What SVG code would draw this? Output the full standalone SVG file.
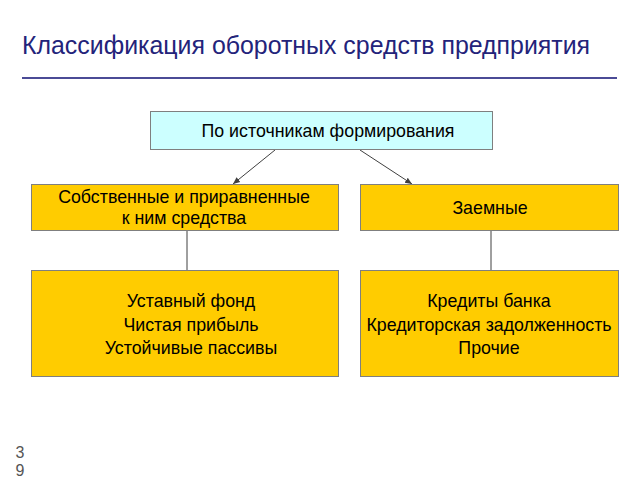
<svg xmlns="http://www.w3.org/2000/svg" width="640" height="480" viewBox="0 0 640 480">
<style>
text{font-family:"Liberation Sans",Arial,sans-serif;}
.box{stroke:#7f7f7f;stroke-width:1;}
.y{fill:#FFCC00;}
.c{fill:#CCFFFF;}
.t{font-size:17.8px;fill:#000;text-anchor:middle;}
.con{stroke:#404040;stroke-width:1;fill:none;}
</style>
<defs>
<marker id="ah" markerWidth="8" markerHeight="8" refX="7" refY="4" orient="auto" markerUnits="userSpaceOnUse">
<path d="M0,1 L7,4 L0,7 Z" fill="#404040"/>
</marker>
</defs>
<rect width="640" height="480" fill="#fff"/>
<text x="22" y="54" font-size="24.9" fill="#23237a">Классификация оборотных средств предприятия</text>
<line x1="22" y1="78" x2="617" y2="78" stroke="#4b4b96" stroke-width="2"/>
<g id="connectors">
<line class="con" x1="275" y1="150" x2="233" y2="184" marker-end="url(#ah)"/>
<line class="con" x1="360" y1="150" x2="412" y2="184" marker-end="url(#ah)"/>
<line class="con" x1="187" y1="230" x2="187" y2="270"/>
<line class="con" x1="491" y1="230" x2="491" y2="270"/>
</g>
<g id="top">
<rect class="box c" x="150.5" y="111.5" width="342" height="38"/>
<text class="t" x="328" y="137">По источникам формирования</text>
</g>
<g id="own">
<rect class="box y" x="31.5" y="184.5" width="307" height="46"/>
<text class="t" x="184" y="203">Собственные и приравненные</text>
<text class="t" x="184" y="224">к ним средства</text>
</g>
<g id="borrowed">
<rect class="box y" x="360.5" y="184.5" width="258" height="46"/>
<text class="t" x="490" y="214">Заемные</text>
</g>
<g id="own-list">
<rect class="box y" x="31.5" y="270.5" width="307" height="106"/>
<text class="t" x="191" y="307">Уставный фонд</text>
<text class="t" x="191" y="331">Чистая прибыль</text>
<text class="t" x="191" y="354">Устойчивые пассивы</text>
</g>
<g id="borrowed-list">
<rect class="box y" x="360.5" y="270.5" width="258" height="106"/>
<text class="t" x="489" y="307">Кредиты банка</text>
<text class="t" x="489" y="331">Кредиторская задолженность</text>
<text class="t" x="489" y="354">Прочие</text>
</g>
<text x="20" y="458" font-size="16" fill="#555" text-anchor="middle">3</text>
<text x="20" y="476" font-size="16" fill="#555" text-anchor="middle">9</text>
</svg>
